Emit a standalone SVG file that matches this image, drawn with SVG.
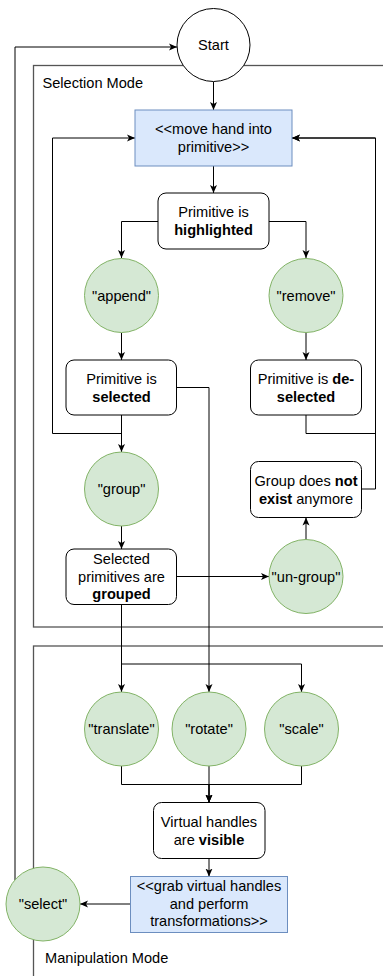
<svg xmlns="http://www.w3.org/2000/svg" width="383" height="976" viewBox="0 0 383 976">
<style>
text{font-family:"Liberation Sans",Arial,sans-serif;font-size:14.6px;fill:#000;text-anchor:middle}
.lbl{text-anchor:start}
.b{font-weight:bold}
.cont{fill:none;stroke:#555;stroke-width:1.3}
.box{fill:#fff;stroke:#000;stroke-width:1}
.act{fill:#dae8fc;stroke:#6c8ebf;stroke-width:1}
.cmd{fill:#d5e8d4;stroke:#82b366;stroke-width:1}
.e{fill:none;stroke:#000;stroke-width:1}
.a{marker-end:url(#arr)}
</style>
<defs>
<marker id="arr" markerUnits="userSpaceOnUse" viewBox="0 0 8 8" markerWidth="8" markerHeight="8" refX="8" refY="4" orient="auto">
<path d="M0,0.5 L8,4 L0,7.5 L2,4 z" fill="#000"/>
</marker>
</defs>
<g id="selection-mode">
<rect class="cont" x="33.5" y="65.5" width="360" height="561.5"/>
<text class="lbl" x="42.5" y="87.5">Selection Mode</text>
</g>
<g id="manipulation-mode">
<rect class="cont" x="33.5" y="646" width="360" height="340"/>
<text class="lbl" x="45" y="963">Manipulation Mode</text>
</g>
<g id="connectors">
<path class="e a" d="M213.5,82 V110"/>
<path class="e a" d="M15,880 V47 H177"/>
<path class="e a" d="M213.5,166 V193"/>
<path class="e a" d="M158,221.5 H121.5 V258"/>
<path class="e a" d="M269,221.5 H306 V258"/>
<path class="e a" d="M121.5,333 V360"/>
<path class="e a" d="M306,333 V360"/>
<path class="e a" d="M121.5,415 V433.5 H52.5 V138 H135"/>
<path class="e a" d="M306,415 V433.5 H375.5 V138 H292"/>
<path class="e a" d="M361.5,489 H375.5 V138 H292"/>
<path class="e a" d="M121.5,415 V452"/>
<path class="e a" d="M176.5,387.5 H209 V692"/>
<path class="e a" d="M121.5,526 V549"/>
<path class="e a" d="M176.5,576.5 H269"/>
<path class="e a" d="M306,540 V517.5"/>
<path class="e a" d="M121.5,604.5 V692"/>
<path class="e a" d="M121.5,604.5 V664 H301.5 V692"/>
<path class="e a" d="M121.5,766 V784.5 H209 V802.5"/>
<path class="e a" d="M209,766 V802.5"/>
<path class="e a" d="M301.5,766 V784.5 H209 V802.5"/>
<path class="e a" d="M209,858.5 V876.5"/>
<path class="e a" d="M130.5,904 H80"/>
</g>
<g id="start">
<circle class="box" cx="213.5" cy="45" r="36.5"/>
<text x="213.5" y="50">Start</text>
</g>
<g id="move-hand">
<rect class="act" x="135" y="110" width="157" height="56"/>
<text x="213.5" y="134">&lt;&lt;move hand into</text>
<text x="213.5" y="151.5">primitive&gt;&gt;</text>
</g>
<g id="highlighted">
<rect class="box" x="158" y="193" width="111" height="56" rx="8"/>
<text x="213.5" y="217">Primitive is</text>
<text x="213.5" y="234.5" class="b">highlighted</text>
</g>
<g id="append">
<circle class="cmd" cx="121.5" cy="295.5" r="37"/>
<text x="121.5" y="300.5">"append"</text>
</g>
<g id="remove">
<circle class="cmd" cx="306" cy="295.5" r="37"/>
<text x="306" y="300.5">"remove"</text>
</g>
<g id="selected">
<rect class="box" x="66" y="360" width="110.5" height="55" rx="8"/>
<text x="121.5" y="384">Primitive is</text>
<text x="121.5" y="401.5" class="b">selected</text>
</g>
<g id="deselected">
<rect class="box" x="250.5" y="360" width="111" height="55" rx="8"/>
<text x="306" y="384">Primitive is <tspan class="b">de-</tspan></text>
<text x="306" y="401.5" class="b">selected</text>
</g>
<g id="group">
<circle class="cmd" cx="121.5" cy="489" r="37"/>
<text x="121.5" y="494">"group"</text>
</g>
<g id="not-exist">
<rect class="box" x="250.5" y="461.5" width="111" height="56" rx="8"/>
<text x="306" y="486">Group does <tspan class="b">not</tspan></text>
<text x="306" y="503.5"><tspan class="b">exist</tspan> anymore</text>
</g>
<g id="grouped">
<rect class="box" x="66" y="549" width="110.5" height="55.5" rx="8"/>
<text x="121.5" y="564">Selected</text>
<text x="121.5" y="581.5">primitives are</text>
<text x="121.5" y="599" class="b">grouped</text>
</g>
<g id="ungroup">
<circle class="cmd" cx="306" cy="576.5" r="37"/>
<text x="306" y="581.5">"un-group"</text>
</g>
<g id="translate">
<circle class="cmd" cx="121.5" cy="729" r="37"/>
<text x="121.5" y="734">"translate"</text>
</g>
<g id="rotate">
<circle class="cmd" cx="209" cy="729" r="37"/>
<text x="209" y="734">"rotate"</text>
</g>
<g id="scale">
<circle class="cmd" cx="301.5" cy="729" r="37"/>
<text x="301.5" y="734">"scale"</text>
</g>
<g id="virtual-handles">
<rect class="box" x="153.5" y="802.5" width="111.5" height="56" rx="8"/>
<text x="209" y="827">Virtual handles</text>
<text x="209" y="844.5">are <tspan class="b">visible</tspan></text>
</g>
<g id="grab">
<rect class="act" x="130.5" y="876.5" width="157" height="56"/>
<text x="209" y="891">&lt;&lt;grab virtual handles</text>
<text x="209" y="908.5">and perform</text>
<text x="209" y="926">transformations&gt;&gt;</text>
</g>
<g id="select">
<circle class="cmd" cx="43" cy="904" r="37"/>
<text x="43" y="909">"select"</text>
</g>
</svg>
